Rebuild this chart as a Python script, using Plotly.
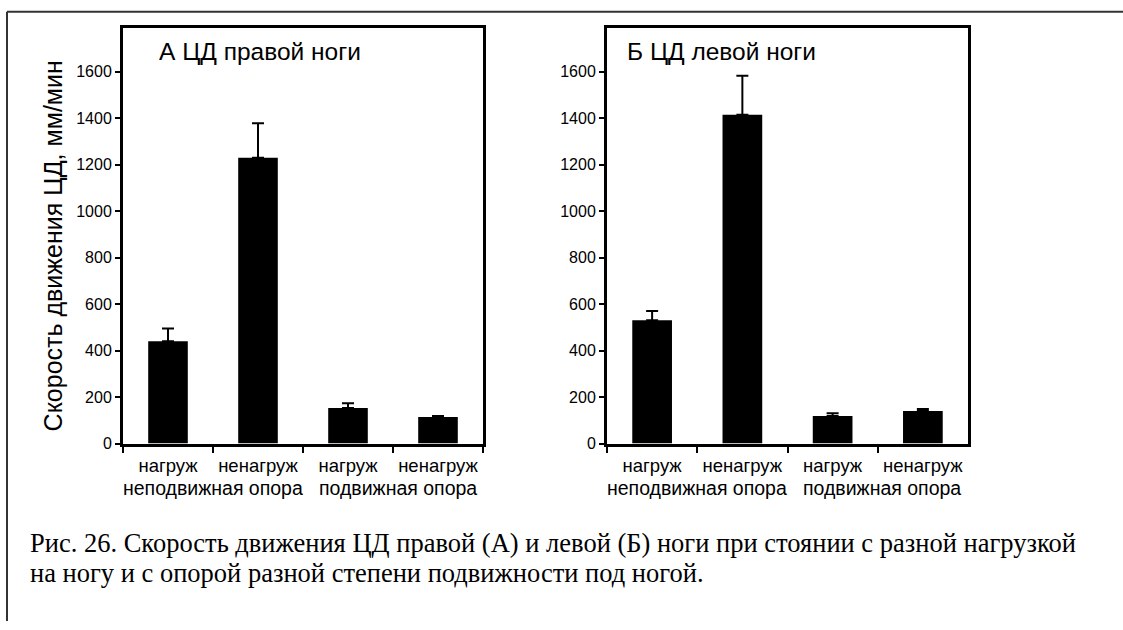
import plotly.graph_objects as go

# ---- data ----
categories = ["нагруж|неподвижная", "ненагруж|неподвижная", "нагруж|подвижная", "ненагруж|подвижная"]
load_labels = ["нагруж", "ненагруж", "нагруж", "ненагруж"]
support_labels = ["неподвижная опора", "подвижная опора"]
right_leg_values = [440, 1230, 153, 114]
right_leg_err = [55, 148, 20, 5]
left_leg_values = [531, 1415, 119, 140]
left_leg_err = [40, 168, 11, 9]
panel_titles = ["А ЦД правой ноги", "Б ЦД левой ноги"]
y_title = "Скорость движения ЦД, мм/мин"
caption_lines = ["Рис. 26. Скорость движения ЦД правой (А) и левой (Б) ноги при стоянии с разной нагрузкой",
                 "на ногу и с опорой разной степени подвижности под ногой."]
y_ticks = [0, 200, 400, 600, 800, 1000, 1200, 1400, 1600]

W, H = 1123, 630
SANS = "Liberation Sans, Arial, sans-serif"
SERIF = "Liberation Serif, Times New Roman, serif"

def px_x(p):
    return p / W

def px_y(p):
    return 1 - p / H

fig = go.Figure()

panels = [
    (right_leg_values, right_leg_err, "x", "y", (123, 483)),
    (left_leg_values, left_leg_err, "x2", "y2", (607, 968)),
]

for vals, errs, xa, ya, _ in panels:
    fig.add_trace(go.Bar(
        x=categories, y=vals, xaxis=xa, yaxis=ya,
        width=0.44,
        marker=dict(color="black", line=dict(width=0)),
        error_y=dict(type="data", array=errs, arrayminus=[0] * len(errs), symmetric=False,
                     color="black", thickness=2, width=6),
        showlegend=False,
    ))

y_dom = [px_y(450), px_y(28)]
axis_common = dict(showline=True, linecolor="black", linewidth=3, mirror=True,
                   showgrid=False, zeroline=False)

for i, (vals, errs, xa, ya, (x0, x1)) in enumerate(panels):
    xkey = "xaxis" if i == 0 else "xaxis2"
    ykey = "yaxis" if i == 0 else "yaxis2"
    fig.layout[xkey] = dict(
        domain=[px_x(x0), px_x(x1)], anchor=ya, type="category",
        tickson="boundaries", ticks="outside", ticklen=6, tickwidth=2, tickcolor="black",
        tickvals=categories, ticktext=load_labels, ticklabelstandoff=3, tickangle=0,
        tickfont=dict(family=SANS, size=18.5, color="black"),
        range=[-0.5, 3.5], **axis_common)
    fig.layout[ykey] = dict(
        domain=y_dom, anchor=xa, range=[0, 1790], tickvals=y_ticks,
        ticks="outside", ticklen=5, tickwidth=2, tickcolor="black",
        tickfont=dict(family=SANS, size=16, color="black"),
        **axis_common)

annotations = []
# panel titles
for (title, xpos) in zip(panel_titles, [157, 625]):
    annotations.append(dict(text=title, x=px_x(xpos), y=px_y(52), xref="paper", yref="paper",
                            xanchor="left", yanchor="middle", showarrow=False,
                            font=dict(family=SANS, size=24.5, color="black")))
# support labels (second line of x labels)
for xa in ["x", "x2"]:
    for pos, lab in zip([0.5, 2.55], support_labels):
        annotations.append(dict(text=lab, x=pos, y=px_y(495), xref=xa, yref="paper",
                                xanchor="center", yanchor="middle", showarrow=False,
                                font=dict(family=SANS, size=19.5, color="black")))
# y-axis title
annotations.append(dict(text=y_title, x=px_x(53), y=px_y(250), xref="paper", yref="paper",
                        textangle=-90, xanchor="center", yanchor="middle", showarrow=False,
                        font=dict(family=SANS, size=25, color="black")))
# caption
for line, ypos in zip(caption_lines, [551, 581]):
    annotations.append(dict(text=line, x=px_x(28), y=px_y(ypos), xref="paper", yref="paper",
                            xanchor="left", yanchor="middle", align="left", showarrow=False,
                            font=dict(family=SERIF, size=26.5, color="black")))

shapes = [
    dict(type="line", xref="paper", yref="paper", x0=px_x(7), x1=1.0, y0=px_y(12), y1=px_y(12),
         line=dict(color="#333333", width=2)),
    dict(type="line", xref="paper", yref="paper", x0=px_x(7), x1=px_x(7), y0=0, y1=px_y(12),
         line=dict(color="#333333", width=2)),
]

fig.update_layout(
    width=W, height=H, margin=dict(l=0, r=0, t=0, b=0),
    paper_bgcolor="white", plot_bgcolor="white",
    bargap=0.5, annotations=annotations, shapes=shapes,
)

fig.write_html("out.html")
